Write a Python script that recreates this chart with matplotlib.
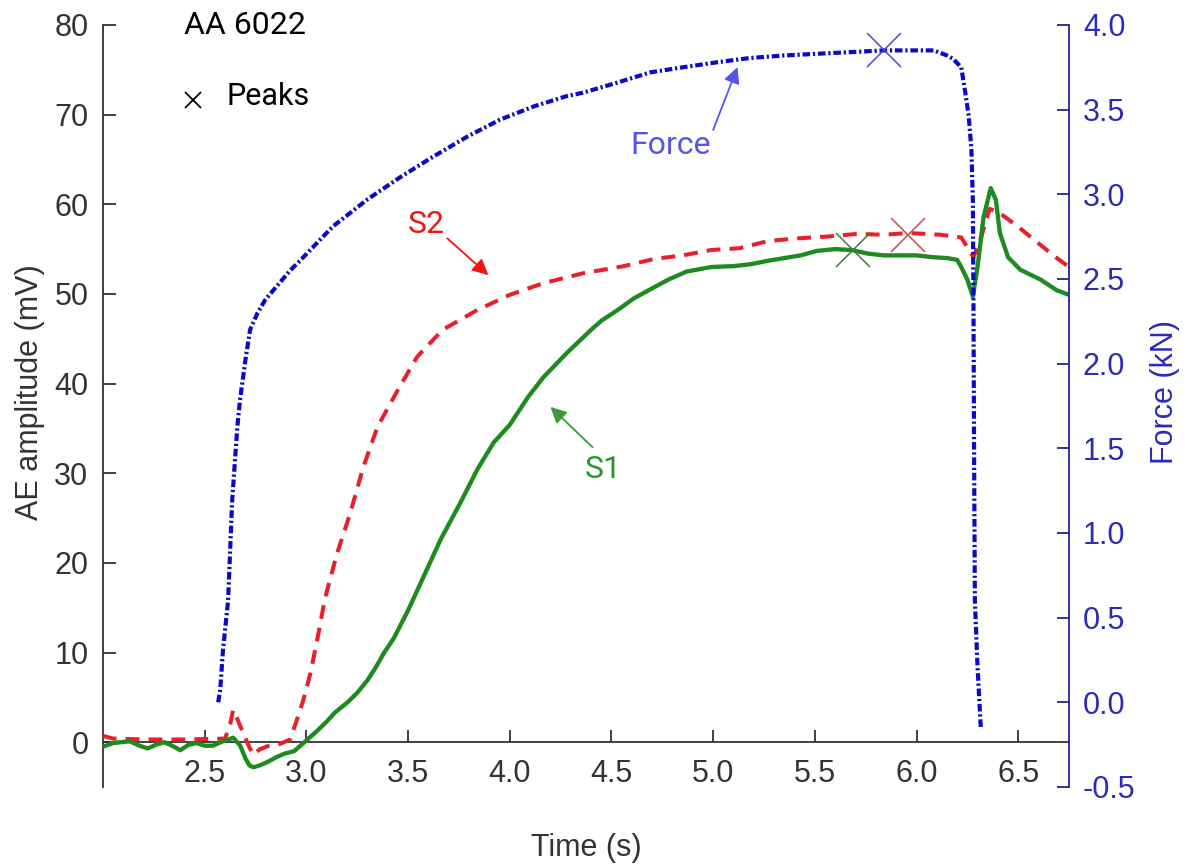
import matplotlib
matplotlib.use("Agg")
import matplotlib.pyplot as plt
import numpy as np

# ---------------- data ----------------
s1_time = [2.00, 2.05, 2.13, 2.18, 2.22, 2.26, 2.30, 2.34, 2.38, 2.42, 2.46, 2.50, 2.54,
           2.59, 2.64, 2.675, 2.70, 2.72, 2.74, 2.77, 2.81, 2.85, 2.89, 2.94, 2.99, 3.05,
           3.10, 3.14, 3.20, 3.25, 3.30, 3.34, 3.38, 3.43, 3.50, 3.575, 3.66, 3.757, 3.84,
           3.92, 4.00, 4.09, 4.165, 4.28, 4.40, 4.45, 4.53, 4.61, 4.69, 4.78, 4.87, 4.99,
           5.10, 5.18, 5.27, 5.35, 5.43, 5.51, 5.60, 5.68, 5.76, 5.84, 5.92, 6.00, 6.08,
           6.15, 6.20, 6.22, 6.25, 6.277, 6.30, 6.33, 6.365, 6.39, 6.41, 6.45, 6.51, 6.61,
           6.69, 6.75]
s1_amp = [-0.5, -0.1, 0.1, -0.4, -0.7, -0.3, 0.0, -0.4, -0.9, -0.3, -0.1, -0.4, -0.4,
          0.1, 0.5, -0.4, -1.8, -2.6, -2.8, -2.6, -2.2, -1.7, -1.3, -1.0, 0.0, 1.2,
          2.3, 3.3, 4.4, 5.5, 6.9, 8.3, 9.9, 11.6, 14.7, 18.4, 22.6, 26.7, 30.4,
          33.4, 35.4, 38.5, 40.7, 43.4, 46.0, 47.0, 48.2, 49.5, 50.5, 51.6, 52.5, 53.0,
          53.1, 53.3, 53.7, 54.0, 54.3, 54.8, 55.0, 54.9, 54.5, 54.3, 54.3, 54.3, 54.1,
          54.0, 53.8, 53.0, 51.6, 49.7, 53.0, 58.6, 61.8, 60.5, 56.8, 54.1, 52.7, 51.6,
          50.4, 49.9]

s2_time = [2.00, 2.05, 2.20, 2.40, 2.60, 2.625, 2.64, 2.66, 2.69, 2.72, 2.74, 2.77, 2.81,
           2.87, 2.92, 2.955, 2.985, 3.02, 3.06, 3.09, 3.15, 3.215, 3.28, 3.35, 3.45,
           3.545, 3.67, 3.84, 4.00, 4.165, 4.36, 4.56, 4.71, 4.85, 4.99, 5.13, 5.27,
           5.415, 5.56, 5.71, 5.84, 5.96, 6.12, 6.22, 6.25, 6.28, 6.32, 6.36, 6.41, 6.50,
           6.58, 6.69, 6.75]
s2_amp = [0.7, 0.4, 0.3, 0.3, 0.4, 2.0, 3.6, 2.6, 1.0, -0.6, -1.4, -0.8, -0.45,
          -0.2, 0.3, 2.6, 4.7, 7.7, 12.2, 15.9, 21.0, 25.5, 30.7, 35.2, 39.3,
          43.0, 46.0, 48.2, 49.9, 51.2, 52.3, 53.1, 53.9, 54.3, 54.9, 55.1, 55.9,
          56.2, 56.4, 56.7, 56.6, 56.8, 56.6, 56.3, 55.2, 54.1, 56.5, 59.5, 59.0, 57.5,
          56.0, 54.0, 53.0]

force_time = [2.566, 2.576, 2.59, 2.615, 2.635, 2.66, 2.674, 2.70, 2.723, 2.76, 2.797,
              2.856, 2.92, 2.97, 3.13, 3.30, 3.46, 3.62, 3.79, 3.95, 4.12, 4.28, 4.36,
              4.53, 4.69, 4.85, 5.02, 5.18, 5.35, 5.51, 5.68, 5.84, 6.00, 6.085, 6.15,
              6.18, 6.22, 6.24, 6.257, 6.27, 6.277, 6.28, 6.283, 6.287, 6.30, 6.316]
force_kn = [0.0, 0.07, 0.31, 0.60, 1.19, 1.62, 1.79, 2.02, 2.20, 2.30, 2.376,
            2.46, 2.55, 2.61, 2.81, 2.97, 3.10, 3.22, 3.34, 3.44, 3.52, 3.58, 3.60,
            3.66, 3.72, 3.75, 3.78, 3.805, 3.82, 3.83, 3.84, 3.85, 3.85, 3.85, 3.82,
            3.80, 3.75, 3.60, 3.46, 3.26, 2.97, 2.38, 1.5, 0.60, 0.21, -0.15]

s1_peak = (5.686, 54.9)
s2_peak = (5.96, 56.6)
force_peak = (5.84, 3.85)

x_ticks = [2.5, 3.0, 3.5, 4.0, 4.5, 5.0, 5.5, 6.0, 6.5]
left_ticks = [0, 10, 20, 30, 40, 50, 60, 70, 80]
right_ticks = [-0.5, 0.0, 0.5, 1.0, 1.5, 2.0, 2.5, 3.0, 3.5, 4.0]

# ---------------- style ----------------
plt.rcParams['lines.scale_dashes'] = False
TICK_FONT = ['Liberation Sans', 'DejaVu Sans']
NOTE_FONT = ['Roboto', 'DejaVu Sans']
GREY = '#333333'
NAVY = '#23239a'
BLUE_TXT = '#2b2bb5'

C_S1 = '#1f8a1f'
C_S2 = '#e8202a'
C_F = '#0a0ac8'

fig = plt.figure(figsize=(11.91, 8.65), dpi=100)
ax = fig.add_axes([0.0865, 0.0902, 0.8111, 0.8809])
ax.set_xlim(2.0, 6.75)
ax.set_ylim(-5, 80)
ax2 = ax.twinx()
ax2.set_ylim(-0.5, 4.0)

# lines
ax.plot(s2_time, s2_amp, color=C_S2, lw=2.9, dashes=(10, 6.5), zorder=3)
ax.plot(s1_time, s1_amp, color=C_S1, lw=3.1, zorder=4, solid_joinstyle='round')
ax2.plot(force_time, force_kn, color=C_F, lw=3.0, dashes=(5.5, 2.0, 1.6, 2.0), zorder=3)

# peak markers
ax.plot([s1_peak[0]], [s1_peak[1]], marker='x', ms=24, mew=1.1, color='#3d7d3d', zorder=5)
ax.plot([s2_peak[0]], [s2_peak[1]], marker='x', ms=24, mew=1.1, color='#cc4a4a', zorder=5)
ax2.plot([force_peak[0]], [force_peak[1]], marker='x', ms=24, mew=1.1, color='#4a4acc', zorder=5)

# spines
ax.spines['top'].set_visible(False)
ax.spines['right'].set_visible(False)
ax.spines['bottom'].set_position(('data', 0))
ax.spines['bottom'].set_color(GREY)
ax.spines['left'].set_color(GREY)
ax.spines['bottom'].set_linewidth(1.3)
ax.spines['left'].set_linewidth(1.3)
for s in ['top', 'left', 'bottom']:
    ax2.spines[s].set_visible(False)
ax2.spines['right'].set_color(NAVY)
ax2.spines['right'].set_linewidth(1.3)

ax.set_xticks(x_ticks)
ax.set_xticklabels([f"{v:.1f}" for v in x_ticks], fontfamily=TICK_FONT)
ax.set_yticks(left_ticks)
ax.set_yticklabels([str(v) for v in left_ticks], fontfamily=TICK_FONT)
ax2.set_yticks(right_ticks)
ax2.set_yticklabels([f"{v:.1f}" for v in right_ticks], fontfamily=TICK_FONT)

ax.tick_params(axis='x', direction='in', length=9, width=1.3, pad=12, labelsize=22,
               colors=GREY)
ax.tick_params(axis='y', direction='in', length=9, width=1.3, pad=10.5, labelsize=22,
               colors=GREY)
ax2.tick_params(axis='y', direction='in', length=9, width=1.3, pad=10, labelsize=22,
                colors=NAVY, labelcolor=BLUE_TXT)

ax.set_xlabel('Time (s)', fontsize=22, color=GREY, fontfamily=TICK_FONT)
ax.xaxis.set_label_coords(0.5, -0.06)
ax.set_ylabel('AE amplitude (mV)', fontsize=22, color=GREY, fontfamily=TICK_FONT, va='center')
ax.yaxis.set_label_coords(-0.076, 0.518)
ax2.set_ylabel('Force (kN)', fontsize=22, color=BLUE_TXT, fontfamily=TICK_FONT, va='center',
               rotation=90)
ax2.yaxis.set_label_coords(1.099, 0.518)

# annotations
ax.text(2.40, 79.9, 'AA 6022', fontsize=23, fontfamily=NOTE_FONT, color='black',
        ha='left', va='center')
ax.plot([0.0935], [0.902], transform=ax.transAxes, marker='x', ms=11, mew=1.3,
        color='black', clip_on=False)
ax.text(2.605, 72.0, 'Peaks', fontsize=22, fontfamily=NOTE_FONT, color='black',
        ha='left', va='center')

ax.text(4.79, 66.6, 'Force', fontsize=23, fontfamily=NOTE_FONT, color='#5555ee',
        ha='center', va='center')
ax.annotate('', xy=(5.12, 75.3), xytext=(5.00, 68.3),
            arrowprops=dict(arrowstyle='-|>', color='#5555ee', lw=1.3, mutation_scale=24,
                            shrinkA=0, shrinkB=0))
ax.text(3.59, 57.7, 'S2', fontsize=23, fontfamily=NOTE_FONT, color='#ee1515',
        ha='center', va='center')
ax.annotate('', xy=(3.895, 52.1), xytext=(3.693, 56.2),
            arrowprops=dict(arrowstyle='-|>', color='#ee1515', lw=1.3, mutation_scale=24,
                            shrinkA=0, shrinkB=0))
ax.text(4.46, 30.4, 'S1', fontsize=23, fontfamily=NOTE_FONT, color='#2a962a',
        ha='center', va='center')
ax.annotate('', xy=(4.20, 37.4), xytext=(4.407, 32.9),
            arrowprops=dict(arrowstyle='-|>', color='#3c9a3c', lw=1.3, mutation_scale=24,
                            shrinkA=0, shrinkB=0))

fig.savefig('out.png', dpi=100)
